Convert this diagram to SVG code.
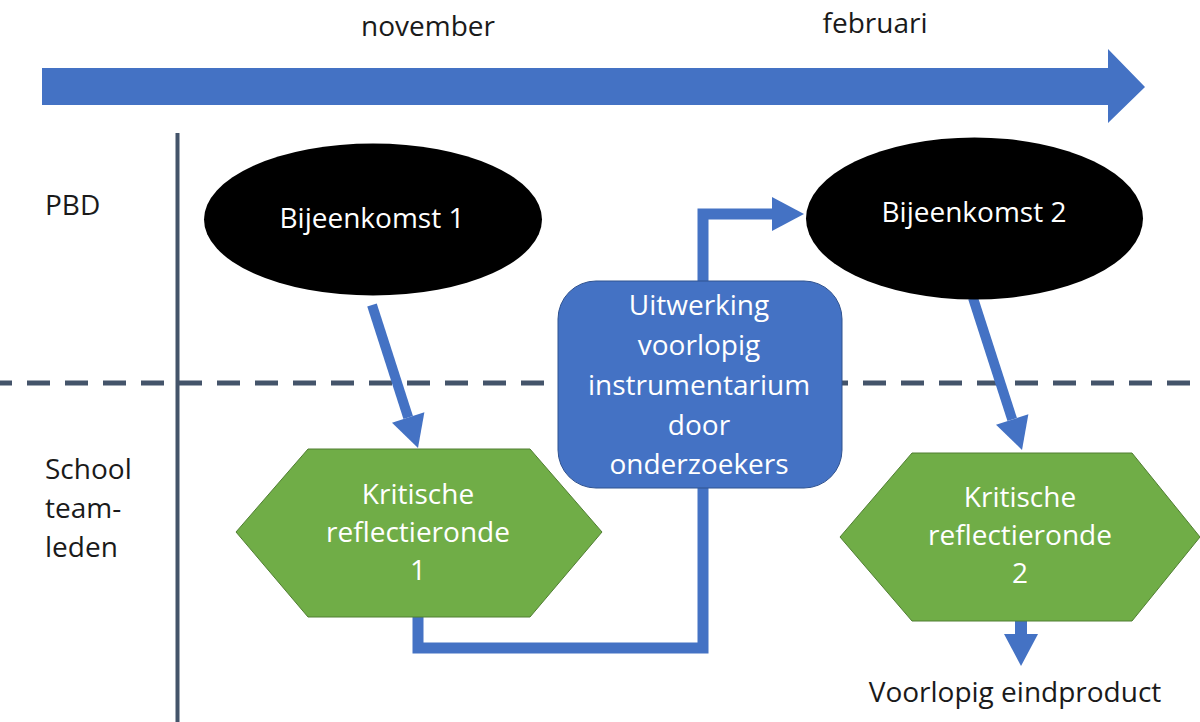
<svg xmlns="http://www.w3.org/2000/svg" width="1200" height="722" viewBox="0 0 1200 722">
  <style>
    text { font-family: "Open Sans", "Liberation Sans", sans-serif; font-size: 28px; }
    .lbl { fill: #1a1a1a; }
    .wt { fill: #ffffff; text-anchor: middle; }
    .blk { fill: #1a1a1a; text-anchor: middle; }
    .conn { fill: none; stroke: #4472C4; stroke-linejoin: miter; stroke-linecap: butt; }
    .hex { fill: #70AD47; stroke: #507E32; stroke-width: 1; }
    .lane { stroke: #44546A; fill: none; }
  </style>
  <defs>
    <marker id="head" markerUnits="userSpaceOnUse" markerWidth="34" markerHeight="34" refX="0" refY="17" orient="auto" overflow="visible">
      <path d="M0,0 L32,17 L0,34 Z" fill="#4472C4"/>
    </marker>
  </defs>

  <rect width="1200" height="722" fill="#ffffff"/>

  <g id="timeline">
    <polygon points="42,68 1108,68 1108,49 1145,87 1108,123 1108,105 42,105" fill="#4472C4"/>
    <text class="blk" x="428" y="36">november</text>
    <text class="blk" x="875" y="33">februari</text>
  </g>

  <g id="lanes">
    <line class="lane" x1="177.5" y1="133" x2="177.5" y2="722" stroke-width="4"/>
    <line class="lane" x1="0" y1="383" x2="1200" y2="383" stroke-width="5" stroke-dasharray="23 15" stroke-dashoffset="11"/>
    <text class="lbl" x="45" y="215">PBD</text>
    <text class="lbl" x="45" y="479">School</text>
    <text class="lbl" x="45" y="518">team-</text>
    <text class="lbl" x="45" y="557">leden</text>
  </g>

  <g id="connectors">
    <line class="conn" x1="372" y1="305" x2="408.2" y2="417.5" stroke-width="10" marker-end="url(#head)"/>
    <line class="conn" x1="973" y1="298" x2="1012.2" y2="419.5" stroke-width="10" marker-end="url(#head)"/>
    <line class="conn" x1="1021" y1="620" x2="1021" y2="634" stroke-width="12" marker-end="url(#head)"/>
    <path class="conn" d="M418,617 V648 H703 V488" stroke-width="11"/>
    <path class="conn" d="M703,282 V214 H772" stroke-width="11" marker-end="url(#head)"/>
  </g>

  <g id="bijeenkomst1">
    <ellipse cx="373" cy="219.5" rx="169" ry="76" fill="#000000"/>
    <text class="wt" x="372" y="228">Bijeenkomst 1</text>
  </g>

  <g id="bijeenkomst2">
    <ellipse cx="974.5" cy="218.5" rx="168.5" ry="81" fill="#000000"/>
    <text class="wt" x="974" y="222">Bijeenkomst 2</text>
  </g>

  <g id="uitwerking">
    <rect x="558" y="281" width="284" height="207" rx="38" ry="38" fill="#4472C4" stroke="#2F528F" stroke-width="1"/>
    <text class="wt" x="699" y="315">Uitwerking</text>
    <text class="wt" x="699" y="355">voorlopig</text>
    <text class="wt" x="699" y="395">instrumentarium</text>
    <text class="wt" x="699" y="435">door</text>
    <text class="wt" x="699" y="474">onderzoekers</text>
  </g>

  <g id="reflectie1">
    <polygon class="hex" points="236,532 308,449 530,449 602,532 530,617 308,617"/>
    <text class="wt" x="418" y="504">Kritische</text>
    <text class="wt" x="418" y="542">reflectieronde</text>
    <text class="wt" x="418" y="580">1</text>
  </g>

  <g id="reflectie2">
    <polygon class="hex" points="840,537 912,453 1132,453 1200,537 1132,621 912,621"/>
    <text class="wt" x="1020" y="507">Kritische</text>
    <text class="wt" x="1020" y="545">reflectieronde</text>
    <text class="wt" x="1020" y="583">2</text>
  </g>

  <g id="eindproduct">
    <text class="blk" x="1015" y="702">Voorlopig eindproduct</text>
  </g>
</svg>
